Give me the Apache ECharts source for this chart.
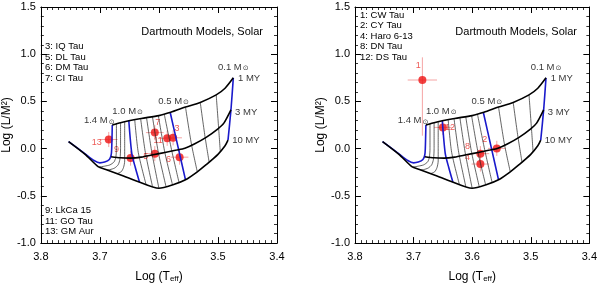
<!DOCTYPE html>
<html><head><meta charset="utf-8">
<script src="https://cdn.jsdelivr.net/npm/echarts@6/dist/echarts.min.js"></script>
<style>html,body{margin:0;padding:0;background:#fff}#c{width:600px;height:288px}</style>
</head><body><div id="c"></div>
<script>
// ---------- model isochrones  [log Teff, log(L/M^2)] ----------
const iso1My  = [[3.679,0.25],[3.665,0.275],[3.651,0.295],[3.63,0.32],[3.60,0.35],[3.58,0.385],[3.555,0.44],[3.53,0.49],[3.503,0.57],[3.488,0.64],[3.474,0.75]];
const iso3My  = [[3.681,-0.085],[3.665,-0.097],[3.648,-0.10],[3.63,-0.09],[3.61,-0.065],[3.59,-0.04],[3.57,-0.015],[3.556,0.005],[3.54,0.05],[3.52,0.12],[3.50,0.21],[3.49,0.27],[3.478,0.41]];
const iso10My = [[3.753,0.075],[3.725,-0.06],[3.703,-0.19],[3.69,-0.22],[3.66,-0.29],[3.637,-0.345],[3.60,-0.42],[3.575,-0.38],[3.555,-0.33],[3.535,-0.245],[3.52,-0.17],[3.50,-0.06],[3.488,0.03],[3.483,0.09]];

// ---------- mass tracks ----------
const track14 = [[3.679,0.25],[3.68,0.0],[3.681,-0.07],[3.684,-0.115],[3.692,-0.142],[3.70,-0.15],[3.71,-0.125],[3.725,-0.055],[3.753,0.075]];
const track13 = [[3.672,0.262],[3.672,0.0],[3.673,-0.09],[3.676,-0.14],[3.683,-0.172],[3.692,-0.185],[3.701,-0.195]];
const track12 = [[3.665,0.272],[3.665,0.0],[3.666,-0.11],[3.669,-0.17],[3.675,-0.205],[3.683,-0.222],[3.688,-0.225]];
const track11 = [[3.658,0.282],[3.658,0.0],[3.658,-0.13],[3.66,-0.20],[3.664,-0.245],[3.671,-0.264]];
const track10 = [[3.651,0.295],[3.646,-0.05],[3.640,-0.20],[3.633,-0.353]];
const trackM1 = [[3.641,0.307],[3.635,-0.04],[3.622,-0.375]];
const trackM2 = [[3.631,0.319],[3.623,-0.04],[3.611,-0.398]];
const trackM3 = [[3.621,0.329],[3.612,-0.04],[3.600,-0.420]];
const trackM4 = [[3.611,0.339],[3.601,-0.04],[3.588,-0.401]];
const trackM5 = [[3.601,0.349],[3.590,-0.04],[3.577,-0.383]];
const trackM6 = [[3.591,0.366],[3.578,-0.03],[3.566,-0.357]];
const track05 = [[3.581,0.385],[3.567,0.0],[3.555,-0.33]];
const track04 = [[3.555,0.44],[3.545,0.05],[3.535,-0.245]];
const track03 = [[3.53,0.49],[3.522,0.13],[3.515,-0.14]];
const track02 = [[3.503,0.57],[3.499,0.23],[3.496,-0.035]];
const track01 = [[3.474,0.75],[3.478,0.41],[3.483,0.09]];

// ---------- annotations on the model grid ----------
const massLabels = ['1.4','1.0','0.5','0.1'];
const massLabelAt = [[3.727,0.297],[3.679,0.397],[3.601,0.503],[3.50,0.863]];
const ageLabels = ['1 MY','3 MY','10 MY'];
const ageLabelAt = [[3.466,0.743],[3.471,0.387],[3.476,0.087]];

// ---------- stars, left panel ----------
const leftIds  = ['7','3','11','13','9','5','6'];
const leftLogT = [3.607,3.576,3.586,3.685,3.648,3.607,3.565];
const leftLogL = [0.170,0.115,0.110,0.097,-0.100,-0.053,-0.090];
const leftErrT = [0.015,0.015,0.015,0.015,0.015,0.015,0.015];
const leftErrL = [0.08,0.08,0.08,0.08,0.08,0.08,0.08];
const leftListTop = ['3: IQ Tau','5: DL Tau','6: DM Tau','7: CI Tau'];
const leftListBottom = ['9: LkCa 15','11: GO Tau','13: GM Aur'];

// ---------- stars, right panel ----------
const rightIds   = ['1','12','8','2','4'];
const rightLogT  = [3.685,3.650,3.586,3.558,3.586];
const rightLogL  = [0.727,0.225,-0.053,0.003,-0.163];
const rightErrT  = [0.025,0.015,0.015,0.015,0.015];
const rightErrLUp= [0.24,0.08,0.08,0.08,0.08];
const rightErrLDn= [0.59,0.08,0.08,0.08,0.08];
const rightList  = ['1: CW Tau','2: CY Tau','4: Haro 6-13','8: DN Tau','12: DS Tau'];

const xTicks = {min:3.4, max:3.8, step:0.1};
const yTicks = {min:-1.0, max:1.5, step:0.5};

// ---------- styling ----------
const FONT = '"Liberation Sans", Arial, Helvetica, sans-serif';
const BLUE = '#1a1acc';
const labelOffsets = {'7':[7,-6],'3':[8,-5],'11':[-5,6],'13':[-8,7],'9':[-10,-5],'5':[-5,7],'6':[-7,6],
                      '1':[0,-10],'12':[11,4],'8':[-9,-3],'2':[-8,-5],'4':[-9,-3]};

const chart = echarts.init(document.getElementById('c'));
const grids = [{left:40, top:7, width:237, height:250},{left:355, top:7, width:235, height:250}];

const xAxes = [], yAxes = [];
grids.forEach((g, gi) => {
  const lineSt = {color:'#000', width:1};
  const base = {type:'value', gridIndex:gi, min:xTicks.min, max:xTicks.max, interval:xTicks.step, inverse:true,
    axisLine:{show:true,onZero:false,lineStyle:lineSt}, splitLine:{show:false},
    axisTick:{inside:true,length:6,lineStyle:lineSt},
    minorTick:{show:true,splitNumber:10,length:3,lineStyle:{color:'#000',width:0.8}}};
  xAxes.push(Object.assign({}, base, {position:'bottom',
    axisLabel:{formatter:v=>v.toFixed(1), color:'#000', fontSize:11, fontFamily:FONT, margin:8, showMinLabel:true, showMaxLabel:true},
    name:'{a|Log (T}{s|eff}{a|)}', nameLocation:'middle', nameGap:24,
    nameTextStyle:{rich:{a:{fontSize:12,fontFamily:FONT,color:'#000',lineHeight:12,verticalAlign:'top'},
                         s:{fontSize:8,fontFamily:FONT,color:'#000',lineHeight:8,padding:[8,0,0,0],verticalAlign:'bottom'}}}}));
  xAxes.push(Object.assign({}, base, {position:'top', axisLabel:{show:false}}));
  const ybase = {type:'value', gridIndex:gi, min:yTicks.min, max:yTicks.max, interval:yTicks.step,
    axisLine:{show:true,onZero:false,lineStyle:lineSt}, splitLine:{show:false},
    axisTick:{inside:true,length:6,lineStyle:lineSt},
    minorTick:{show:true,splitNumber:5,length:3,lineStyle:{color:'#000',width:0.8}}};
  yAxes.push(Object.assign({}, ybase, {position:'left',
    axisLabel:{formatter:v=>v.toFixed(1), color:'#000', fontSize:11, fontFamily:FONT, margin:5, showMinLabel:true, showMaxLabel:true},
    name:'Log (L/M²)', nameLocation:'middle', nameGap:24, nameRotate:90,
    nameTextStyle:{fontSize:12, fontFamily:FONT, color:'#000'}}));
  yAxes.push(Object.assign({}, ybase, {position:'right', axisLabel:{show:false}}));
});

const series = [];
function lineS(p, data, color, width) {
  series.push({type:'line', xAxisIndex:2*p, yAxisIndex:2*p, data:data, showSymbol:false, symbol:'none',
    smooth:0.25, lineStyle:{color:color, width:width}, silent:true, animation:false, clip:true});
}
const thinTracks = [track13,track12,track11,trackM1,trackM2,trackM3,trackM4,trackM5,trackM6,track04,track03,track02];
const blueTracks = [track14,track10,track05,track01];
const isochrones = [iso1My,iso3My,iso10My];

function starLabel(id){ const o = labelOffsets[id]; return {show:true, formatter:id, position:[o[0],o[1]], align:'center', verticalAlign:'middle',
  color:'#e8302a', fontSize:9, fontFamily:FONT}; }

function errorSeries(p, rows) {
  series.push({type:'custom', xAxisIndex:2*p, yAxisIndex:2*p, data:rows, encode:{x:0,y:1}, silent:true, animation:false,
    renderItem:(params, api) => {
      const x=api.value(0), y=api.value(1), ex=api.value(2), eu=api.value(3), ed=api.value(4);
      const l=api.coord([x-ex,y]), r=api.coord([x+ex,y]), t=api.coord([x,y+eu]), b=api.coord([x,y-ed]);
      const st={stroke:'#f49a9a', lineWidth:0.9};
      return {type:'group', children:[
        {type:'line', shape:{x1:l[0],y1:l[1],x2:r[0],y2:r[1]}, style:st},
        {type:'line', shape:{x1:t[0],y1:t[1],x2:b[0],y2:b[1]}, style:st}]};
    }});
}
function pointSeries(p, ids, xs, ys) {
  series.push({type:'scatter', xAxisIndex:2*p, yAxisIndex:2*p, symbolSize:8, animation:false,
    itemStyle:{color:'#ee1111'},
    data: ids.map((id,i)=>({value:[xs[i],ys[i]], label:starLabel(id)}))});
}
function annotSeries(p) {
  series.push({type:'scatter', xAxisIndex:2*p, yAxisIndex:2*p, symbolSize:0, animation:false, silent:true,
    data: massLabels.map((m,i)=>({value:massLabelAt[i], label:{show:true, formatter:'{a|'+m+' M}{s|⊙}', position:[0,0], align:'left', verticalAlign:'middle',
      rich:{a:{fontSize:9.5,fontFamily:FONT,color:'#000',lineHeight:10,verticalAlign:'top'},
            s:{fontSize:7,fontFamily:'DejaVu Sans',color:'#000',lineHeight:7,padding:[5,0,0,1],verticalAlign:'bottom'}}}}))
      .concat(ageLabels.map((a,i)=>({value:ageLabelAt[i], label:{show:true, formatter:a, position:[0,0], align:'left', verticalAlign:'middle',
        fontSize:9.5, fontFamily:FONT, color:'#000'}})))});
}

[0,1].forEach(p => {
  thinTracks.forEach(t => lineS(p, t, '#222', 0.7));
  blueTracks.forEach(t => lineS(p, t, BLUE, 1.6));
  isochrones.forEach(t => lineS(p, t, '#000', 1.6));
  annotSeries(p);
});
errorSeries(0, leftIds.map((id,i)=>[leftLogT[i],leftLogL[i],leftErrT[i],leftErrL[i],leftErrL[i]]));
pointSeries(0, leftIds, leftLogT, leftLogL);
errorSeries(1, rightIds.map((id,i)=>[rightLogT[i],rightLogL[i],rightErrT[i],rightErrLUp[i],rightErrLDn[i]]));
pointSeries(1, rightIds, rightLogT, rightLogL);

const graphics = [];
function txt(x, y, s, size, align) {
  graphics.push({type:'text', x:x, y:y, silent:true, style:{text:s, font:size+'px '+FONT, fill:'#000', align:align||'left', verticalAlign:'middle'}});
}
txt(263, 32, 'Dartmouth Models, Solar', 11, 'right');
txt(577, 32, 'Dartmouth Models, Solar', 11, 'right');
leftListTop.forEach((s,i)=>txt(45, 46.7 + i*10.5, s, 9.5));
leftListBottom.forEach((s,i)=>txt(45, 210.7 + i*10.2, s, 9.5));
rightList.forEach((s,i)=>txt(360, 15 + i*10.6, s, 9.5));

chart.setOption({animation:false, backgroundColor:'#fff', grid:grids, xAxis:xAxes, yAxis:yAxes, series:series, graphic:graphics});
</script></body></html>
